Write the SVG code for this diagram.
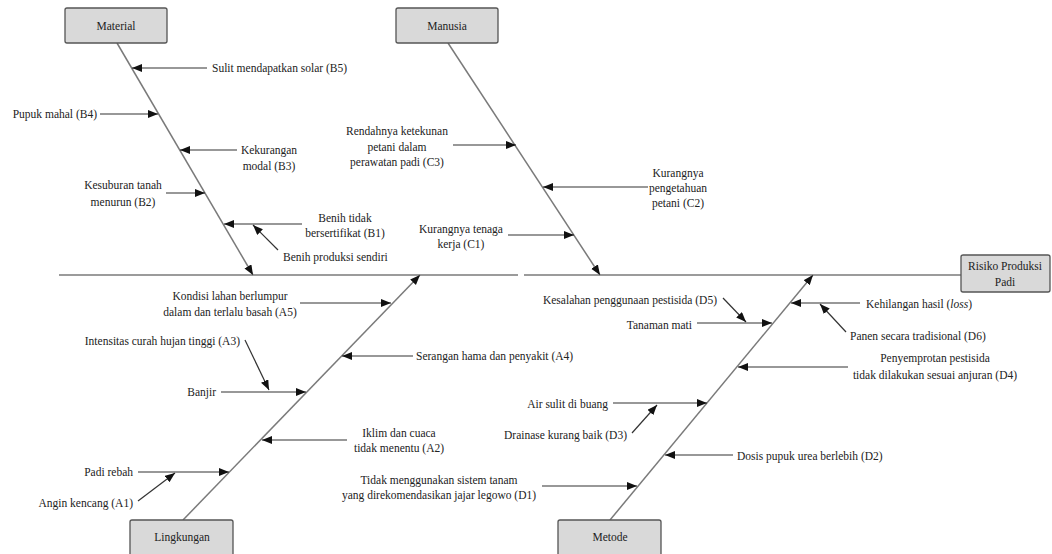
<svg xmlns="http://www.w3.org/2000/svg" width="1052" height="554" viewBox="0 0 1052 554">
<style>
text{font-family:"Liberation Serif","Times New Roman",serif;font-size:11.5px;fill:#222}
.m{text-anchor:middle}
.e{text-anchor:end}
.box{fill:#d9d9d9;stroke:#555;stroke-width:1.3}
.spine{stroke:#7a7a7a;stroke-width:1.5;fill:none}
.arr{stroke:#333;stroke-width:1.2;fill:none;marker-end:url(#ah)}
.sp{stroke:#7a7a7a;stroke-width:1.5;fill:none;marker-end:url(#ah)}
</style>
<defs>
<marker id="ah" markerUnits="userSpaceOnUse" markerWidth="11" markerHeight="9" refX="10" refY="4" orient="auto">
<path d="M0,0 L10,4 L0,8 Z" fill="#111"/>
</marker>
</defs>
<rect width="1052" height="554" fill="#fff"/>

<g id="connectors">
<line class="spine" x1="59" y1="275" x2="518" y2="275"/>
<line class="spine" x1="524" y1="275" x2="961" y2="275"/>
<line class="sp" x1="117" y1="43" x2="253" y2="275"/>
<line class="sp" x1="448" y1="43" x2="600" y2="275"/>
<line class="sp" x1="183" y1="520" x2="420" y2="275"/>
<line class="sp" x1="610" y1="520" x2="813" y2="275"/>
<!-- Material -->
<line class="arr" x1="207" y1="68" x2="132" y2="68"/>
<line class="arr" x1="100" y1="114" x2="158" y2="114"/>
<line class="arr" x1="237" y1="150" x2="180" y2="150"/>
<line class="arr" x1="166" y1="193" x2="205" y2="193"/>
<line class="arr" x1="302" y1="224" x2="224" y2="224"/>
<line class="arr" x1="278" y1="250" x2="253" y2="225"/>
<!-- Manusia -->
<line class="arr" x1="453" y1="145" x2="516" y2="145"/>
<line class="arr" x1="648" y1="187" x2="543" y2="187"/>
<line class="arr" x1="508" y1="235" x2="574" y2="235"/>
<!-- Lingkungan -->
<line class="arr" x1="300" y1="303" x2="391" y2="303"/>
<line class="arr" x1="245" y1="340" x2="269" y2="390"/>
<line class="arr" x1="221" y1="392" x2="306" y2="392"/>
<line class="arr" x1="413" y1="356" x2="342" y2="356"/>
<line class="arr" x1="347" y1="440" x2="262" y2="440"/>
<line class="arr" x1="138" y1="472" x2="229" y2="472"/>
<line class="arr" x1="138" y1="501" x2="175" y2="473"/>
<!-- Metode -->
<line class="arr" x1="723" y1="298" x2="746" y2="322"/>
<line class="arr" x1="697" y1="323" x2="772" y2="323"/>
<line class="arr" x1="860" y1="303" x2="791" y2="303"/>
<line class="arr" x1="846" y1="332" x2="820" y2="304"/>
<line class="arr" x1="848" y1="367" x2="738" y2="367"/>
<line class="arr" x1="613" y1="403" x2="707" y2="403"/>
<line class="arr" x1="632" y1="433" x2="657" y2="405"/>
<line class="arr" x1="733" y1="455" x2="665" y2="455"/>
<line class="arr" x1="542" y1="486" x2="637" y2="486"/>
</g>

<g id="material"><rect class="box" x="65" y="8" width="102" height="35" rx="2"/><text class="m" x="116" y="30">Material</text></g>
<g id="manusia"><rect class="box" x="396" y="8" width="102" height="35" rx="2"/><text class="m" x="447" y="30">Manusia</text></g>
<g id="lingkungan"><rect class="box" x="130" y="520" width="103" height="37" rx="2"/><text class="m" x="182" y="541">Lingkungan</text></g>
<g id="metode"><rect class="box" x="558" y="520" width="103" height="37" rx="2"/><text class="m" x="610" y="541">Metode</text></g>
<g id="risiko"><rect class="box" x="961" y="255" width="89" height="37" rx="2"/><text class="m" x="1005" y="270">Risiko Produksi</text><text class="m" x="1005" y="286">Padi</text></g>

<g id="b5"><text x="212" y="72">Sulit mendapatkan solar (B5)</text></g>
<g id="b4"><text class="e" x="97" y="118">Pupuk mahal (B4)</text></g>
<g id="b3"><text class="m" x="269" y="154">Kekurangan</text><text class="m" x="269" y="170">modal (B3)</text></g>
<g id="b2"><text class="m" x="123" y="189">Kesuburan tanah</text><text class="m" x="123" y="206">menurun (B2)</text></g>
<g id="b1"><text class="m" x="345" y="222">Benih tidak</text><text class="m" x="345" y="237">bersertifikat (B1)</text></g>
<g id="b1a"><text x="283" y="261">Benih produksi sendiri</text></g>

<g id="c3"><text class="m" x="397" y="135">Rendahnya ketekunan</text><text class="m" x="397" y="151">petani dalam</text><text class="m" x="397" y="166">perawatan padi (C3)</text></g>
<g id="c2"><text class="m" x="678" y="177">Kurangnya</text><text class="m" x="678" y="192">pengetahuan</text><text class="m" x="678" y="207">petani (C2)</text></g>
<g id="c1"><text class="m" x="461" y="233">Kurangnya tenaga</text><text class="m" x="461" y="248">kerja (C1)</text></g>

<g id="a5"><text class="m" x="230" y="300">Kondisi lahan berlumpur</text><text class="m" x="230" y="316">dalam dan terlalu basah (A5)</text></g>
<g id="a3"><text class="e" x="240" y="345">Intensitas curah hujan tinggi (A3)</text></g>
<g id="banjir"><text class="e" x="216" y="396">Banjir</text></g>
<g id="a4"><text x="416" y="360">Serangan hama dan penyakit (A4)</text></g>
<g id="a2"><text class="m" x="399" y="437">Iklim dan cuaca</text><text class="m" x="399" y="452">tidak menentu (A2)</text></g>
<g id="padi-rebah"><text class="e" x="133" y="476">Padi rebah</text></g>
<g id="a1"><text class="e" x="133" y="507">Angin kencang (A1)</text></g>

<g id="d5"><text class="e" x="717" y="304">Kesalahan penggunaan pestisida (D5)</text></g>
<g id="tanaman-mati"><text class="e" x="692" y="329">Tanaman mati</text></g>
<g id="kehilangan"><text x="866" y="308">Kehilangan hasil (<tspan font-style="italic">loss</tspan>)</text></g>
<g id="d6"><text x="850" y="340">Panen secara tradisional (D6)</text></g>
<g id="d4"><text class="m" x="935" y="362">Penyemprotan pestisida</text><text class="m" x="935" y="379">tidak dilakukan sesuai anjuran (D4)</text></g>
<g id="air-sulit"><text class="e" x="608" y="408">Air sulit di buang</text></g>
<g id="d3"><text class="e" x="627" y="439">Drainase kurang baik (D3)</text></g>
<g id="d2"><text x="737" y="460">Dosis pupuk urea berlebih (D2)</text></g>
<g id="d1"><text class="m" x="439" y="484">Tidak menggunakan sistem tanam</text><text class="m" x="439" y="499">yang direkomendasikan jajar legowo (D1)</text></g>
</svg>
